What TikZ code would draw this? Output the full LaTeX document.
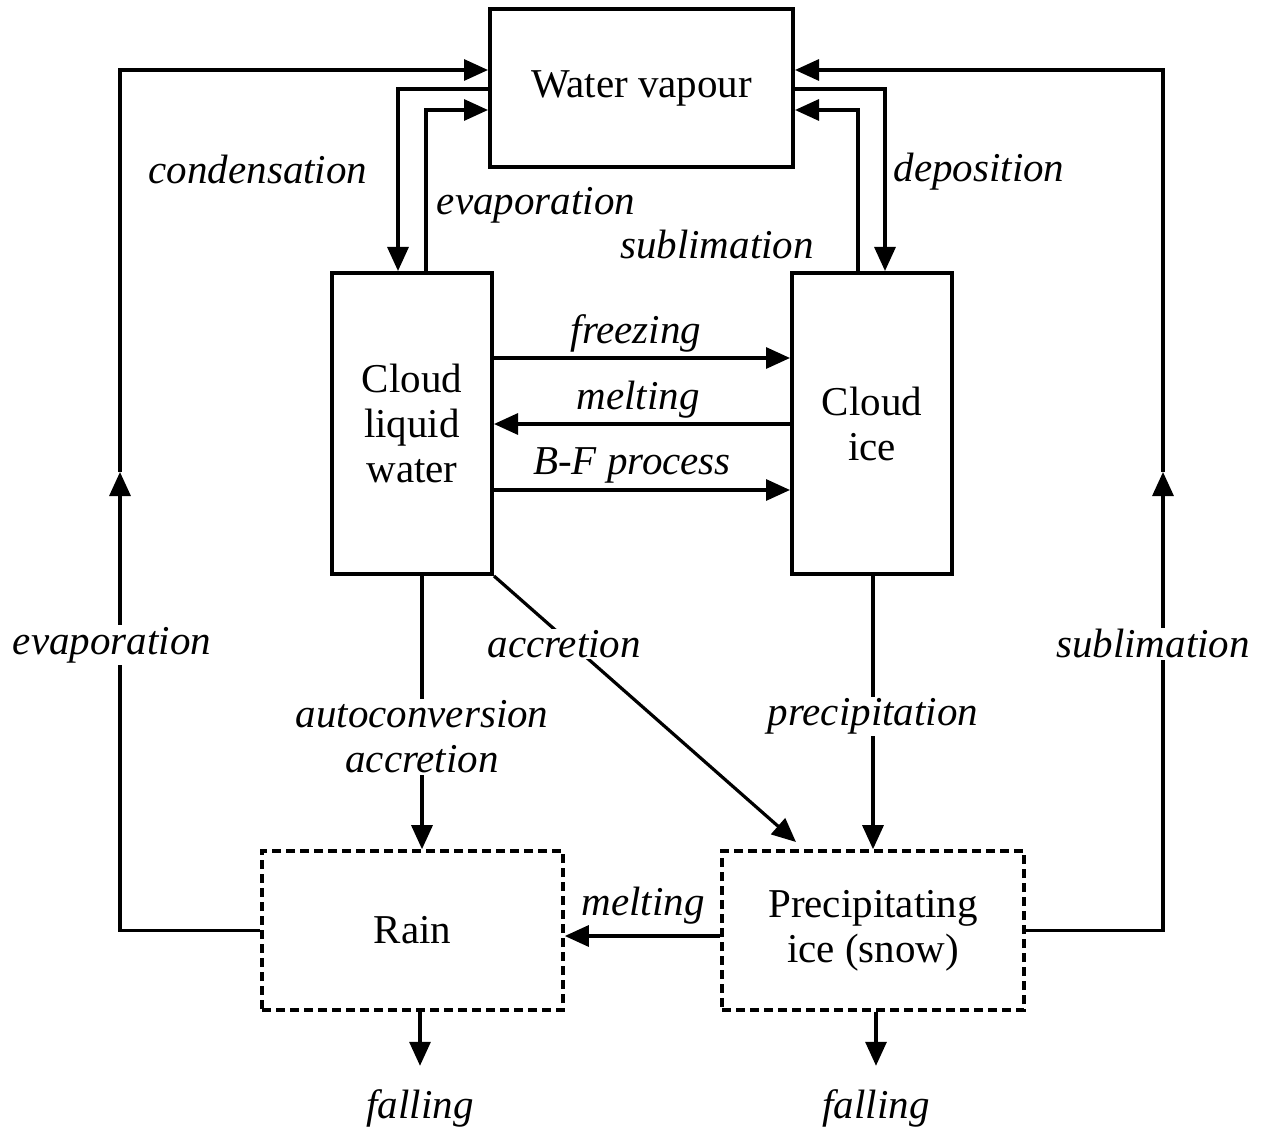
\documentclass[tikz,border=0pt]{standalone}
\usepackage{fontspec}
\setmainfont{Liberation Serif}
\usetikzlibrary{arrows.meta}

\newcommand\txtsize{\fontsize{20.5}{22.5}\selectfont}
\tikzset{
    box/.style={draw, line width=2pt, align=center, inner sep=0pt, font=\txtsize},
    dbox/.style={box, line width=1.8pt, dash pattern=on 4.5pt off 2.5pt},
    flow/.style={-{Triangle[length=12pt,width=10.5pt]}, line width=1.6pt},
    lbl/.style={font=\txtsize\itshape, align=center, inner sep=1.5pt},
    cut/.style={lbl, fill=white, inner sep=0.8pt},
}

\begin{document}
\begin{tikzpicture}[x=0.5pt, y=-0.5pt]
    \useasboundingbox (0,0) rectangle (1265,1129);
    % the five reservoirs
    \node[box, minimum width=151.5pt, minimum height=79pt] (vap) at (641.5,88) {Water vapour};
    \node[box, minimum width=80pt, minimum height=150.5pt] (liq) at (412,423.5) {Cloud\\liquid\\water};
    \node[box, minimum width=80pt, minimum height=150.5pt] (ice) at (872,423.5) {Cloud\\ice};
    \node[dbox, minimum width=150.5pt, minimum height=79.5pt] (rain) at (412.5,930.5) {Rain};
    \node[dbox, minimum width=151pt, minimum height=79.5pt] (snow) at (873,930.5) {Precipitating\\ice (snow)};

    % exchange with the vapour
    \coordinate (cnd) at (398,89);
    \coordinate (evp) at (426,110);
    \coordinate (dep) at (885,89);
    \coordinate (sub) at (858,110);
    \draw[flow] (cnd -| vap.west) -- (cnd) -- (cnd |- liq.north);
    \draw[flow] (evp |- liq.north) -- (evp) -- (evp -| vap.west);
    \draw[flow] (dep -| vap.east) -- (dep) -- (dep |- ice.north);
    \draw[flow] (sub |- ice.north) -- (sub) -- (sub -| vap.east);

    % outer loops back to the vapour
    \coordinate (lup) at (120,472);
    \coordinate (ltop) at (120,70);
    \coordinate (rup) at (1163,472);
    \coordinate (rtop) at (1163,70);
    \draw[flow] (rain.west) -| (lup);
    \draw[flow] (lup) -- (ltop) -- (ltop -| vap.west);
    \draw[flow] (snow.east) -| (rup);
    \draw[flow] (rup) -- (rtop) -- (rtop -| vap.east);

    % liquid <-> ice
    \draw[flow] (liq.east |- 0,358) -- (ice.west |- 0,358);
    \draw[flow] (ice.west |- 0,424) -- (liq.east |- 0,424);
    \draw[flow] (liq.east |- 0,490) -- (ice.west |- 0,490);

    % towards precipitation
    \coordinate (accend) at (796,842);
    \draw[flow] (liq.south -| 422,0) -- node[cut, pos=0.588] (auto) {autoconversion\\accretion} (rain.north -| 422,0);
    \draw[flow] (liq.south east) -- node[cut, pos=0.256, xshift=-3.5pt] (acc) {accretion} (accend);
    \draw[flow] (ice.south -| 873,0) -- node[cut, pos=0.515] (prc) {precipitation} (snow.north -| 873,0);
    \draw[flow] (snow.west |- 0,936) -- (rain.east |- 0,936);

    % falling out
    \node[lbl] (fallR) at (420,1108) {falling};
    \node[lbl] (fallS) at (876,1108) {falling};
    \draw[flow, shorten >=10pt] (rain.south -| fallR) -- (fallR.north);
    \draw[flow, shorten >=10pt] (snow.south -| fallS) -- (fallS.north);

    % labels
    \node[lbl] (cndL) at (258,169) {condensation};
    \node[lbl] (evpU) at (536,205) {evaporation};
    \node[lbl] (subU) at (717,245) {sublimation};
    \node[lbl] (depL) at (979,172) {deposition};
    \node[lbl] (frz) at (636,333) {freezing};
    \node[lbl] (mltU) at (638,400) {melting};
    \node[lbl] (bfp) at (632,465) {B-F process};
    \node[lbl] (mltL) at (643,906) {melting};
    \node[cut] (evpL) at (112,645) {evaporation};
    \node[cut] (subR) at (1153,644) {sublimation};
\end{tikzpicture}
\end{document}
